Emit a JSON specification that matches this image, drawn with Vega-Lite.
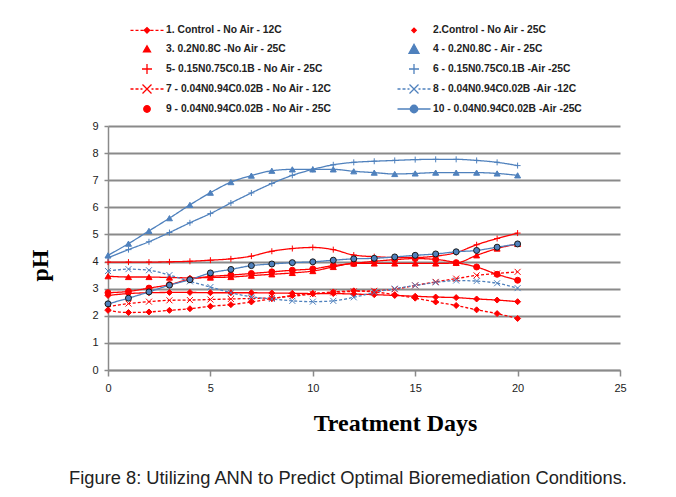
{
"$schema": "https://vega.github.io/schema/vega-lite/v6.json",
"width": 512,
"height": 244,
"autosize": {"type": "none"},
"padding": {"left": 108, "top": 126, "right": 56, "bottom": 127},
"background": "white",
"config": {"view": {"stroke": null}, "font": "Liberation Sans"},
"title": {"text": "Figure 8: Utilizing ANN to Predict Optimal Bioremediation Conditions.", "orient": "bottom", "anchor": "middle", "font": "Liberation Sans", "fontSize": 18.3, "fontWeight": "normal", "color": "#222222", "offset": 35, "dx": -16},
"datasets": {
"ph": [
{"series":"1. Control - No Air - 12C","day":0,"ph":2.2},{"series":"1. Control - No Air - 12C","day":1,"ph":2.12},{"series":"1. Control - No Air - 12C","day":2,"ph":2.14},{"series":"1. Control - No Air - 12C","day":3,"ph":2.2},{"series":"1. Control - No Air - 12C","day":4,"ph":2.26},{"series":"1. Control - No Air - 12C","day":5,"ph":2.35},{"series":"1. Control - No Air - 12C","day":6,"ph":2.41},{"series":"1. Control - No Air - 12C","day":7,"ph":2.51},{"series":"1. Control - No Air - 12C","day":8,"ph":2.63},{"series":"1. Control - No Air - 12C","day":9,"ph":2.75},{"series":"1. Control - No Air - 12C","day":10,"ph":2.82},{"series":"1. Control - No Air - 12C","day":11,"ph":2.88},{"series":"1. Control - No Air - 12C","day":12,"ph":2.92},{"series":"1. Control - No Air - 12C","day":13,"ph":2.88},{"series":"1. Control - No Air - 12C","day":14,"ph":2.78},{"series":"1. Control - No Air - 12C","day":15,"ph":2.65},{"series":"1. Control - No Air - 12C","day":16,"ph":2.51},{"series":"1. Control - No Air - 12C","day":17,"ph":2.38},{"series":"1. Control - No Air - 12C","day":18,"ph":2.22},{"series":"1. Control - No Air - 12C","day":19,"ph":2.08},{"series":"1. Control - No Air - 12C","day":20,"ph":1.9},
{"series":"2.Control - No Air - 25C","day":0,"ph":2.75},{"series":"2.Control - No Air - 25C","day":1,"ph":2.82},{"series":"2.Control - No Air - 25C","day":2,"ph":2.85},{"series":"2.Control - No Air - 25C","day":3,"ph":2.86},{"series":"2.Control - No Air - 25C","day":4,"ph":2.86},{"series":"2.Control - No Air - 25C","day":5,"ph":2.85},{"series":"2.Control - No Air - 25C","day":6,"ph":2.85},{"series":"2.Control - No Air - 25C","day":7,"ph":2.85},{"series":"2.Control - No Air - 25C","day":8,"ph":2.84},{"series":"2.Control - No Air - 25C","day":9,"ph":2.83},{"series":"2.Control - No Air - 25C","day":10,"ph":2.82},{"series":"2.Control - No Air - 25C","day":11,"ph":2.82},{"series":"2.Control - No Air - 25C","day":12,"ph":2.8},{"series":"2.Control - No Air - 25C","day":13,"ph":2.78},{"series":"2.Control - No Air - 25C","day":14,"ph":2.75},{"series":"2.Control - No Air - 25C","day":15,"ph":2.72},{"series":"2.Control - No Air - 25C","day":16,"ph":2.69},{"series":"2.Control - No Air - 25C","day":17,"ph":2.67},{"series":"2.Control - No Air - 25C","day":18,"ph":2.62},{"series":"2.Control - No Air - 25C","day":19,"ph":2.58},{"series":"2.Control - No Air - 25C","day":20,"ph":2.52},
{"series":"3. 0.2N0.8C -No Air - 25C","day":0,"ph":3.46},{"series":"3. 0.2N0.8C -No Air - 25C","day":1,"ph":3.43},{"series":"3. 0.2N0.8C -No Air - 25C","day":2,"ph":3.43},{"series":"3. 0.2N0.8C -No Air - 25C","day":3,"ph":3.41},{"series":"3. 0.2N0.8C -No Air - 25C","day":4,"ph":3.4},{"series":"3. 0.2N0.8C -No Air - 25C","day":5,"ph":3.41},{"series":"3. 0.2N0.8C -No Air - 25C","day":6,"ph":3.43},{"series":"3. 0.2N0.8C -No Air - 25C","day":7,"ph":3.48},{"series":"3. 0.2N0.8C -No Air - 25C","day":8,"ph":3.53},{"series":"3. 0.2N0.8C -No Air - 25C","day":9,"ph":3.58},{"series":"3. 0.2N0.8C -No Air - 25C","day":10,"ph":3.65},{"series":"3. 0.2N0.8C -No Air - 25C","day":11,"ph":3.8},{"series":"3. 0.2N0.8C -No Air - 25C","day":12,"ph":3.93},{"series":"3. 0.2N0.8C -No Air - 25C","day":13,"ph":3.93},{"series":"3. 0.2N0.8C -No Air - 25C","day":14,"ph":3.93},{"series":"3. 0.2N0.8C -No Air - 25C","day":15,"ph":3.93},{"series":"3. 0.2N0.8C -No Air - 25C","day":16,"ph":3.93},{"series":"3. 0.2N0.8C -No Air - 25C","day":17,"ph":3.95},{"series":"3. 0.2N0.8C -No Air - 25C","day":18,"ph":4.23},{"series":"3. 0.2N0.8C -No Air - 25C","day":19,"ph":4.48},{"series":"3. 0.2N0.8C -No Air - 25C","day":20,"ph":4.65},
{"series":"4 - 0.2N0.8C - Air - 25C","day":0,"ph":4.23},{"series":"4 - 0.2N0.8C - Air - 25C","day":1,"ph":4.66},{"series":"4 - 0.2N0.8C - Air - 25C","day":2,"ph":5.13},{"series":"4 - 0.2N0.8C - Air - 25C","day":3,"ph":5.6},{"series":"4 - 0.2N0.8C - Air - 25C","day":4,"ph":6.09},{"series":"4 - 0.2N0.8C - Air - 25C","day":5,"ph":6.54},{"series":"4 - 0.2N0.8C - Air - 25C","day":6,"ph":6.93},{"series":"4 - 0.2N0.8C - Air - 25C","day":7,"ph":7.17},{"series":"4 - 0.2N0.8C - Air - 25C","day":8,"ph":7.35},{"series":"4 - 0.2N0.8C - Air - 25C","day":9,"ph":7.4},{"series":"4 - 0.2N0.8C - Air - 25C","day":10,"ph":7.4},{"series":"4 - 0.2N0.8C - Air - 25C","day":11,"ph":7.4},{"series":"4 - 0.2N0.8C - Air - 25C","day":12,"ph":7.33},{"series":"4 - 0.2N0.8C - Air - 25C","day":13,"ph":7.28},{"series":"4 - 0.2N0.8C - Air - 25C","day":14,"ph":7.23},{"series":"4 - 0.2N0.8C - Air - 25C","day":15,"ph":7.25},{"series":"4 - 0.2N0.8C - Air - 25C","day":16,"ph":7.28},{"series":"4 - 0.2N0.8C - Air - 25C","day":17,"ph":7.28},{"series":"4 - 0.2N0.8C - Air - 25C","day":18,"ph":7.28},{"series":"4 - 0.2N0.8C - Air - 25C","day":19,"ph":7.25},{"series":"4 - 0.2N0.8C - Air - 25C","day":20,"ph":7.18},
{"series":"5- 0.15N0.75C0.1B - No Air - 25C","day":0,"ph":3.98},{"series":"5- 0.15N0.75C0.1B - No Air - 25C","day":1,"ph":3.98},{"series":"5- 0.15N0.75C0.1B - No Air - 25C","day":2,"ph":3.98},{"series":"5- 0.15N0.75C0.1B - No Air - 25C","day":3,"ph":3.99},{"series":"5- 0.15N0.75C0.1B - No Air - 25C","day":4,"ph":4.01},{"series":"5- 0.15N0.75C0.1B - No Air - 25C","day":5,"ph":4.05},{"series":"5- 0.15N0.75C0.1B - No Air - 25C","day":6,"ph":4.1},{"series":"5- 0.15N0.75C0.1B - No Air - 25C","day":7,"ph":4.2},{"series":"5- 0.15N0.75C0.1B - No Air - 25C","day":8,"ph":4.38},{"series":"5- 0.15N0.75C0.1B - No Air - 25C","day":9,"ph":4.48},{"series":"5- 0.15N0.75C0.1B - No Air - 25C","day":10,"ph":4.52},{"series":"5- 0.15N0.75C0.1B - No Air - 25C","day":11,"ph":4.44},{"series":"5- 0.15N0.75C0.1B - No Air - 25C","day":12,"ph":4.24},{"series":"5- 0.15N0.75C0.1B - No Air - 25C","day":13,"ph":4.18},{"series":"5- 0.15N0.75C0.1B - No Air - 25C","day":14,"ph":4.15},{"series":"5- 0.15N0.75C0.1B - No Air - 25C","day":15,"ph":4.15},{"series":"5- 0.15N0.75C0.1B - No Air - 25C","day":16,"ph":4.2},{"series":"5- 0.15N0.75C0.1B - No Air - 25C","day":17,"ph":4.33},{"series":"5- 0.15N0.75C0.1B - No Air - 25C","day":18,"ph":4.62},{"series":"5- 0.15N0.75C0.1B - No Air - 25C","day":19,"ph":4.85},{"series":"5- 0.15N0.75C0.1B - No Air - 25C","day":20,"ph":5.05},
{"series":"6 - 0.15N0.75C0.1B -Air -25C","day":0,"ph":4.14},{"series":"6 - 0.15N0.75C0.1B -Air -25C","day":1,"ph":4.44},{"series":"6 - 0.15N0.75C0.1B -Air -25C","day":2,"ph":4.73},{"series":"6 - 0.15N0.75C0.1B -Air -25C","day":3,"ph":5.07},{"series":"6 - 0.15N0.75C0.1B -Air -25C","day":4,"ph":5.43},{"series":"6 - 0.15N0.75C0.1B -Air -25C","day":5,"ph":5.77},{"series":"6 - 0.15N0.75C0.1B -Air -25C","day":6,"ph":6.16},{"series":"6 - 0.15N0.75C0.1B -Air -25C","day":7,"ph":6.53},{"series":"6 - 0.15N0.75C0.1B -Air -25C","day":8,"ph":6.88},{"series":"6 - 0.15N0.75C0.1B -Air -25C","day":9,"ph":7.18},{"series":"6 - 0.15N0.75C0.1B -Air -25C","day":10,"ph":7.4},{"series":"6 - 0.15N0.75C0.1B -Air -25C","day":11,"ph":7.57},{"series":"6 - 0.15N0.75C0.1B -Air -25C","day":12,"ph":7.66},{"series":"6 - 0.15N0.75C0.1B -Air -25C","day":13,"ph":7.7},{"series":"6 - 0.15N0.75C0.1B -Air -25C","day":14,"ph":7.73},{"series":"6 - 0.15N0.75C0.1B -Air -25C","day":15,"ph":7.76},{"series":"6 - 0.15N0.75C0.1B -Air -25C","day":16,"ph":7.77},{"series":"6 - 0.15N0.75C0.1B -Air -25C","day":17,"ph":7.77},{"series":"6 - 0.15N0.75C0.1B -Air -25C","day":18,"ph":7.73},{"series":"6 - 0.15N0.75C0.1B -Air -25C","day":19,"ph":7.66},{"series":"6 - 0.15N0.75C0.1B -Air -25C","day":20,"ph":7.54},
{"series":"7 - 0.04N0.94C0.02B - No Air - 12C","day":0,"ph":2.33},{"series":"7 - 0.04N0.94C0.02B - No Air - 12C","day":1,"ph":2.45},{"series":"7 - 0.04N0.94C0.02B - No Air - 12C","day":2,"ph":2.52},{"series":"7 - 0.04N0.94C0.02B - No Air - 12C","day":3,"ph":2.57},{"series":"7 - 0.04N0.94C0.02B - No Air - 12C","day":4,"ph":2.58},{"series":"7 - 0.04N0.94C0.02B - No Air - 12C","day":5,"ph":2.6},{"series":"7 - 0.04N0.94C0.02B - No Air - 12C","day":6,"ph":2.62},{"series":"7 - 0.04N0.94C0.02B - No Air - 12C","day":7,"ph":2.64},{"series":"7 - 0.04N0.94C0.02B - No Air - 12C","day":8,"ph":2.66},{"series":"7 - 0.04N0.94C0.02B - No Air - 12C","day":9,"ph":2.72},{"series":"7 - 0.04N0.94C0.02B - No Air - 12C","day":10,"ph":2.8},{"series":"7 - 0.04N0.94C0.02B - No Air - 12C","day":11,"ph":2.86},{"series":"7 - 0.04N0.94C0.02B - No Air - 12C","day":12,"ph":2.9},{"series":"7 - 0.04N0.94C0.02B - No Air - 12C","day":13,"ph":2.92},{"series":"7 - 0.04N0.94C0.02B - No Air - 12C","day":14,"ph":2.98},{"series":"7 - 0.04N0.94C0.02B - No Air - 12C","day":15,"ph":3.12},{"series":"7 - 0.04N0.94C0.02B - No Air - 12C","day":16,"ph":3.25},{"series":"7 - 0.04N0.94C0.02B - No Air - 12C","day":17,"ph":3.37},{"series":"7 - 0.04N0.94C0.02B - No Air - 12C","day":18,"ph":3.49},{"series":"7 - 0.04N0.94C0.02B - No Air - 12C","day":19,"ph":3.56},{"series":"7 - 0.04N0.94C0.02B - No Air - 12C","day":20,"ph":3.62},
{"series":"8 - 0.04N0.94C0.02B -Air -12C","day":0,"ph":3.65},{"series":"8 - 0.04N0.94C0.02B -Air -12C","day":1,"ph":3.72},{"series":"8 - 0.04N0.94C0.02B -Air -12C","day":2,"ph":3.68},{"series":"8 - 0.04N0.94C0.02B -Air -12C","day":3,"ph":3.5},{"series":"8 - 0.04N0.94C0.02B -Air -12C","day":4,"ph":3.27},{"series":"8 - 0.04N0.94C0.02B -Air -12C","day":5,"ph":3.06},{"series":"8 - 0.04N0.94C0.02B -Air -12C","day":6,"ph":2.85},{"series":"8 - 0.04N0.94C0.02B -Air -12C","day":7,"ph":2.7},{"series":"8 - 0.04N0.94C0.02B -Air -12C","day":8,"ph":2.62},{"series":"8 - 0.04N0.94C0.02B -Air -12C","day":9,"ph":2.55},{"series":"8 - 0.04N0.94C0.02B -Air -12C","day":10,"ph":2.52},{"series":"8 - 0.04N0.94C0.02B -Air -12C","day":11,"ph":2.55},{"series":"8 - 0.04N0.94C0.02B -Air -12C","day":12,"ph":2.68},{"series":"8 - 0.04N0.94C0.02B -Air -12C","day":13,"ph":2.86},{"series":"8 - 0.04N0.94C0.02B -Air -12C","day":14,"ph":3.0},{"series":"8 - 0.04N0.94C0.02B -Air -12C","day":15,"ph":3.12},{"series":"8 - 0.04N0.94C0.02B -Air -12C","day":16,"ph":3.23},{"series":"8 - 0.04N0.94C0.02B -Air -12C","day":17,"ph":3.3},{"series":"8 - 0.04N0.94C0.02B -Air -12C","day":18,"ph":3.28},{"series":"8 - 0.04N0.94C0.02B -Air -12C","day":19,"ph":3.2},{"series":"8 - 0.04N0.94C0.02B -Air -12C","day":20,"ph":3.02},
{"series":"9 - 0.04N0.94C0.02B - No Air - 25C","day":0,"ph":2.85},{"series":"9 - 0.04N0.94C0.02B - No Air - 25C","day":1,"ph":2.9},{"series":"9 - 0.04N0.94C0.02B - No Air - 25C","day":2,"ph":3.02},{"series":"9 - 0.04N0.94C0.02B - No Air - 25C","day":3,"ph":3.15},{"series":"9 - 0.04N0.94C0.02B - No Air - 25C","day":4,"ph":3.35},{"series":"9 - 0.04N0.94C0.02B - No Air - 25C","day":5,"ph":3.45},{"series":"9 - 0.04N0.94C0.02B - No Air - 25C","day":6,"ph":3.5},{"series":"9 - 0.04N0.94C0.02B - No Air - 25C","day":7,"ph":3.56},{"series":"9 - 0.04N0.94C0.02B - No Air - 25C","day":8,"ph":3.62},{"series":"9 - 0.04N0.94C0.02B - No Air - 25C","day":9,"ph":3.68},{"series":"9 - 0.04N0.94C0.02B - No Air - 25C","day":10,"ph":3.73},{"series":"9 - 0.04N0.94C0.02B - No Air - 25C","day":11,"ph":3.85},{"series":"9 - 0.04N0.94C0.02B - No Air - 25C","day":12,"ph":3.93},{"series":"9 - 0.04N0.94C0.02B - No Air - 25C","day":13,"ph":4.01},{"series":"9 - 0.04N0.94C0.02B - No Air - 25C","day":14,"ph":4.07},{"series":"9 - 0.04N0.94C0.02B - No Air - 25C","day":15,"ph":4.11},{"series":"9 - 0.04N0.94C0.02B - No Air - 25C","day":16,"ph":4.08},{"series":"9 - 0.04N0.94C0.02B - No Air - 25C","day":17,"ph":3.96},{"series":"9 - 0.04N0.94C0.02B - No Air - 25C","day":18,"ph":3.8},{"series":"9 - 0.04N0.94C0.02B - No Air - 25C","day":19,"ph":3.53},{"series":"9 - 0.04N0.94C0.02B - No Air - 25C","day":20,"ph":3.31},
{"series":"10 - 0.04N0.94C0.02B -Air -25C","day":0,"ph":2.44},{"series":"10 - 0.04N0.94C0.02B -Air -25C","day":1,"ph":2.65},{"series":"10 - 0.04N0.94C0.02B -Air -25C","day":2,"ph":2.88},{"series":"10 - 0.04N0.94C0.02B -Air -25C","day":3,"ph":3.13},{"series":"10 - 0.04N0.94C0.02B -Air -25C","day":4,"ph":3.33},{"series":"10 - 0.04N0.94C0.02B -Air -25C","day":5,"ph":3.58},{"series":"10 - 0.04N0.94C0.02B -Air -25C","day":6,"ph":3.71},{"series":"10 - 0.04N0.94C0.02B -Air -25C","day":7,"ph":3.85},{"series":"10 - 0.04N0.94C0.02B -Air -25C","day":8,"ph":3.91},{"series":"10 - 0.04N0.94C0.02B -Air -25C","day":9,"ph":3.96},{"series":"10 - 0.04N0.94C0.02B -Air -25C","day":10,"ph":3.99},{"series":"10 - 0.04N0.94C0.02B -Air -25C","day":11,"ph":4.05},{"series":"10 - 0.04N0.94C0.02B -Air -25C","day":12,"ph":4.1},{"series":"10 - 0.04N0.94C0.02B -Air -25C","day":13,"ph":4.12},{"series":"10 - 0.04N0.94C0.02B -Air -25C","day":14,"ph":4.17},{"series":"10 - 0.04N0.94C0.02B -Air -25C","day":15,"ph":4.23},{"series":"10 - 0.04N0.94C0.02B -Air -25C","day":16,"ph":4.28},{"series":"10 - 0.04N0.94C0.02B -Air -25C","day":17,"ph":4.36},{"series":"10 - 0.04N0.94C0.02B -Air -25C","day":18,"ph":4.41},{"series":"10 - 0.04N0.94C0.02B -Air -25C","day":19,"ph":4.53},{"series":"10 - 0.04N0.94C0.02B -Air -25C","day":20,"ph":4.65}
]
},
"data": {"name": "ph"},
"encoding": {
"x": {"field": "day", "type": "quantitative", "scale": {"domain": [0, 25], "nice": false},
"axis": {"values": [0, 5, 10, 15, 20, 25], "grid": false, "domainColor": "#8a8a8a", "domainWidth": 1.5, "tickColor": "#8a8a8a", "tickWidth": 1.5, "tickSize": 6, "labelFont": "Liberation Sans", "labelFontSize": 11, "labelColor": "#222222", "labelPadding": 6, "labelFlush": false, "labelOverlap": false, "title": "Treatment Days", "titleFont": "Liberation Serif", "titleFontSize": 24, "titleFontWeight": "bold", "titleColor": "#000000", "titleX": 287, "titleY": 60, "titleBaseline": "alphabetic", "titleAlign": "center"}},
"y": {"field": "ph", "type": "quantitative", "scale": {"domain": [0, 9], "nice": false},
"axis": {"values": [0, 1, 2, 3, 4, 5, 6, 7, 8, 9], "tickCount": 10, "grid": true, "gridColor": "#8a8a8a", "gridWidth": 2, "gridOpacity": 1, "domainColor": "#8a8a8a", "domainWidth": 1.5, "tickColor": "#8a8a8a", "tickWidth": 1.5, "tickSize": 4, "labelFont": "Liberation Sans", "labelFontSize": 11, "labelColor": "#222222", "labelPadding": 6, "labelFlush": false, "labelOverlap": false, "title": "pH", "titleFont": "Liberation Serif", "titleFontSize": 24, "titleFontWeight": "bold", "titleColor": "#000000", "titleX": -68, "titleY": 139, "titleAngle": 270, "titleBaseline": "middle", "titleAlign": "center"}}
},
"layer": [
{
"mark": {"type": "line", "interpolate": "monotone", "strokeWidth": 1.3},
"encoding": {
"stroke": {"field": "series", "type": "nominal", "legend": null, "scale": {"domain": ["1. Control - No Air - 12C", "2.Control - No Air - 25C", "3. 0.2N0.8C -No Air - 25C", "4 - 0.2N0.8C - Air - 25C", "5- 0.15N0.75C0.1B - No Air - 25C", "6 - 0.15N0.75C0.1B -Air -25C", "7 - 0.04N0.94C0.02B - No Air - 12C", "8 - 0.04N0.94C0.02B -Air -12C", "9 - 0.04N0.94C0.02B - No Air - 25C", "10 - 0.04N0.94C0.02B -Air -25C"], "range": ["#ff0000", "#ff0000", "#ff0000", "#4f81bd", "#ff0000", "#4f81bd", "#ff0000", "#4f81bd", "#ff0000", "#4f81bd"]}},
"strokeDash": {"field": "series", "type": "nominal", "legend": null, "scale": {"domain": ["1. Control - No Air - 12C", "2.Control - No Air - 25C", "3. 0.2N0.8C -No Air - 25C", "4 - 0.2N0.8C - Air - 25C", "5- 0.15N0.75C0.1B - No Air - 25C", "6 - 0.15N0.75C0.1B -Air -25C", "7 - 0.04N0.94C0.02B - No Air - 12C", "8 - 0.04N0.94C0.02B -Air -12C", "9 - 0.04N0.94C0.02B - No Air - 25C", "10 - 0.04N0.94C0.02B -Air -25C"], "range": [[3, 2], [1, 0], [1, 0], [1, 0], [1, 0], [1, 0], [3, 2], [3, 2], [1, 0], [1, 0]]}}
}
},
{
"mark": {"type": "point", "filled": true, "opacity": 1, "strokeWidth": 1},
"encoding": {
"shape": {"field": "series", "type": "nominal", "legend": null, "scale": {"domain": ["1. Control - No Air - 12C", "2.Control - No Air - 25C", "3. 0.2N0.8C -No Air - 25C", "4 - 0.2N0.8C - Air - 25C", "5- 0.15N0.75C0.1B - No Air - 25C", "6 - 0.15N0.75C0.1B -Air -25C", "7 - 0.04N0.94C0.02B - No Air - 12C", "8 - 0.04N0.94C0.02B -Air -12C", "9 - 0.04N0.94C0.02B - No Air - 25C", "10 - 0.04N0.94C0.02B -Air -25C"], "range": ["diamond", "diamond", "triangle-up", "triangle-up", "M-1,0H1M0,-1V1", "M-1,0H1M0,-1V1", "M-1,-1L1,1M-1,1L1,-1", "M-1,-1L1,1M-1,1L1,-1", "circle", "circle"]}},
"fill": {"field": "series", "type": "nominal", "legend": null, "scale": {"domain": ["1. Control - No Air - 12C", "2.Control - No Air - 25C", "3. 0.2N0.8C -No Air - 25C", "4 - 0.2N0.8C - Air - 25C", "5- 0.15N0.75C0.1B - No Air - 25C", "6 - 0.15N0.75C0.1B -Air -25C", "7 - 0.04N0.94C0.02B - No Air - 12C", "8 - 0.04N0.94C0.02B -Air -12C", "9 - 0.04N0.94C0.02B - No Air - 25C", "10 - 0.04N0.94C0.02B -Air -25C"], "range": ["#ff0000", "#ff0000", "#ff0000", "#4f81bd", "transparent", "transparent", "transparent", "transparent", "#ff0000", "#4f81bd"]}},
"stroke": {"field": "series", "type": "nominal", "legend": null, "scale": {"domain": ["1. Control - No Air - 12C", "2.Control - No Air - 25C", "3. 0.2N0.8C -No Air - 25C", "4 - 0.2N0.8C - Air - 25C", "5- 0.15N0.75C0.1B - No Air - 25C", "6 - 0.15N0.75C0.1B -Air -25C", "7 - 0.04N0.94C0.02B - No Air - 12C", "8 - 0.04N0.94C0.02B -Air -12C", "9 - 0.04N0.94C0.02B - No Air - 25C", "10 - 0.04N0.94C0.02B -Air -25C"], "range": ["#ff0000", "#ff0000", "#ff0000", "#4f81bd", "#ff0000", "#4f81bd", "#ff0000", "#4f81bd", "#ff0000", "#1a1a1a"]}},
"size": {"field": "series", "type": "ordinal", "legend": null, "scale": {"domain": ["1. Control - No Air - 12C", "2.Control - No Air - 25C", "3. 0.2N0.8C -No Air - 25C", "4 - 0.2N0.8C - Air - 25C", "5- 0.15N0.75C0.1B - No Air - 25C", "6 - 0.15N0.75C0.1B -Air -25C", "7 - 0.04N0.94C0.02B - No Air - 12C", "8 - 0.04N0.94C0.02B -Air -12C", "9 - 0.04N0.94C0.02B - No Air - 25C", "10 - 0.04N0.94C0.02B -Air -25C"], "range": [36, 36, 55, 100, 100, 100, 81, 81, 49, 64]}}
}
},
{
"transform": [{"filter": "false"}],
"mark": {"type": "point", "filled": true, "opacity": 1},
"encoding": {
"shape": {"field": "series", "type": "nominal", "scale": {"domain": ["1. Control - No Air - 12C", "2.Control - No Air - 25C", "3. 0.2N0.8C -No Air - 25C", "4 - 0.2N0.8C - Air - 25C", "5- 0.15N0.75C0.1B - No Air - 25C", "6 - 0.15N0.75C0.1B -Air -25C", "7 - 0.04N0.94C0.02B - No Air - 12C", "8 - 0.04N0.94C0.02B -Air -12C", "9 - 0.04N0.94C0.02B - No Air - 25C", "10 - 0.04N0.94C0.02B -Air -25C"], "range": ["M-3.3,0H-2.7M-2.3,0H-1.7M-1.3,0H-0.7M0.7,0H1.3M1.7,0H2.3M2.7,0H3.3M-0.55,0L0,-0.55L0.55,0L0,0.55Z", "M-0.45,0L0,-0.45L0.45,0L0,0.45Z", "M0,-0.65L0.7,0.55L-0.7,0.55Z", "M0,-0.95L1,0.85L-1,0.85Z", "M-1,0H1M0,-1V1", "M-1,0H1M0,-1V1", "M-3.3,0H-2.7M-2.3,0H-1.7M-1.3,0H-0.9M0.9,0H1.3M1.7,0H2.3M2.7,0H3.3M-0.9,-0.9L0.9,0.9M-0.9,0.9L0.9,-0.9", "M-3.3,0H-2.7M-2.3,0H-1.7M-1.3,0H-0.9M0.9,0H1.3M1.7,0H2.3M2.7,0H3.3M-0.9,-0.9L0.9,0.9M-0.9,0.9L0.9,-0.9", "M0.65,0A0.65,0.65,0,1,1,-0.65,0A0.65,0.65,0,1,1,0.65,0Z", "M-3.3,0H-0.75M0.75,0H3.3M0.75,0A0.75,0.75,0,1,1,-0.75,0A0.75,0.75,0,1,1,0.75,0Z"]},
"legend": {"orient": "none", "direction": "horizontal", "gridAlign": "all", "legendX": 33, "legendY": -103, "columns": 2, "columnPadding": 62, "rowPadding": 4, "symbolSize": 100, "symbolStrokeWidth": 1.3, "labelFont": "Liberation Sans", "labelFontSize": 10.3, "labelFontWeight": "bold", "labelColor": "#222222", "labelOffset": 13, "labelLimit": 400, "title": null, "padding": 0}},
"fill": {"field": "series", "type": "nominal", "scale": {"domain": ["1. Control - No Air - 12C", "2.Control - No Air - 25C", "3. 0.2N0.8C -No Air - 25C", "4 - 0.2N0.8C - Air - 25C", "5- 0.15N0.75C0.1B - No Air - 25C", "6 - 0.15N0.75C0.1B -Air -25C", "7 - 0.04N0.94C0.02B - No Air - 12C", "8 - 0.04N0.94C0.02B -Air -12C", "9 - 0.04N0.94C0.02B - No Air - 25C", "10 - 0.04N0.94C0.02B -Air -25C"], "range": ["#ff0000", "#ff0000", "#ff0000", "#4f81bd", "transparent", "transparent", "transparent", "transparent", "#ff0000", "#4f81bd"]},
"legend": {"orient": "none", "direction": "horizontal", "gridAlign": "all", "legendX": 33, "legendY": -103, "columns": 2, "columnPadding": 62, "rowPadding": 4, "symbolSize": 100, "symbolStrokeWidth": 1.3, "labelFont": "Liberation Sans", "labelFontSize": 10.3, "labelFontWeight": "bold", "labelColor": "#222222", "labelOffset": 13, "labelLimit": 400, "title": null, "padding": 0}},
"stroke": {"field": "series", "type": "nominal", "scale": {"domain": ["1. Control - No Air - 12C", "2.Control - No Air - 25C", "3. 0.2N0.8C -No Air - 25C", "4 - 0.2N0.8C - Air - 25C", "5- 0.15N0.75C0.1B - No Air - 25C", "6 - 0.15N0.75C0.1B -Air -25C", "7 - 0.04N0.94C0.02B - No Air - 12C", "8 - 0.04N0.94C0.02B -Air -12C", "9 - 0.04N0.94C0.02B - No Air - 25C", "10 - 0.04N0.94C0.02B -Air -25C"], "range": ["#ff0000", "#ff0000", "#ff0000", "#4f81bd", "#ff0000", "#4f81bd", "#ff0000", "#4f81bd", "#ff0000", "#4f81bd"]},
"legend": {"orient": "none", "direction": "horizontal", "gridAlign": "all", "legendX": 33, "legendY": -103, "columns": 2, "columnPadding": 62, "rowPadding": 4, "symbolSize": 100, "symbolStrokeWidth": 1.3, "labelFont": "Liberation Sans", "labelFontSize": 10.3, "labelFontWeight": "bold", "labelColor": "#222222", "labelOffset": 13, "labelLimit": 400, "title": null, "padding": 0}}
}
}
],
"resolve": {"scale": {"shape": "independent", "fill": "independent", "stroke": "independent", "size": "independent", "strokeDash": "independent"}}
}
